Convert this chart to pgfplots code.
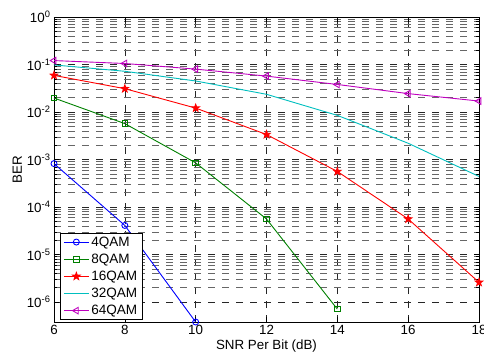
\documentclass[border=0pt]{standalone}
\usepackage{pgfplots}
\pgfplotsset{compat=1.18}
\usepackage{fontspec}
\setmainfont{Liberation Sans}
\definecolor{mgreen}{rgb}{0,0.5,0}
\definecolor{mcyan}{rgb}{0,0.75,0.75}
\definecolor{mmag}{rgb}{0.75,0,0.75}
\pgfdeclareplotmark{fstar}{%
  \pgfpathmoveto{\pgfpointpolar{90}{1.3\pgfplotmarksize}}%
  \pgfpathlineto{\pgfpointpolar{126}{0.52\pgfplotmarksize}}%
  \pgfpathlineto{\pgfpointpolar{162}{1.3\pgfplotmarksize}}%
  \pgfpathlineto{\pgfpointpolar{198}{0.52\pgfplotmarksize}}%
  \pgfpathlineto{\pgfpointpolar{234}{1.3\pgfplotmarksize}}%
  \pgfpathlineto{\pgfpointpolar{270}{0.52\pgfplotmarksize}}%
  \pgfpathlineto{\pgfpointpolar{306}{1.3\pgfplotmarksize}}%
  \pgfpathlineto{\pgfpointpolar{342}{0.52\pgfplotmarksize}}%
  \pgfpathlineto{\pgfpointpolar{18}{1.3\pgfplotmarksize}}%
  \pgfpathlineto{\pgfpointpolar{54}{0.52\pgfplotmarksize}}%
  \pgfpathclose
  \pgfusepathqfillstroke
}
\begin{document}
\begin{tikzpicture}[font=\fontsize{13.4}{16}\selectfont]
\begin{axis}[
  scale only axis, width=425bp, height=305bp,
  ymode=log, xmin=6, xmax=18, ymin=3.8e-7, ymax=1,
  xtick={6,8,10,12,14,16,18}, xticklabels={6,8,10,12,14,16,18},
  ytick={1e-6,1e-5,1e-4,1e-3,1e-2,1e-1,1},
  yticklabels={10\textsuperscript{-6},10\textsuperscript{-5},10\textsuperscript{-4},10\textsuperscript{-3},10\textsuperscript{-2},10\textsuperscript{-1},10\textsuperscript{0}},
  grid=both,
  major grid style={dash pattern=on 7bp off 7bp, black!85, line width=0.5bp},
  minor grid style={dash pattern=on 7bp off 7bp, black!60, line width=0.5bp},
  tick align=inside, major tick length=5bp, minor tick length=3bp,
  tick style={black, line width=0.5bp},
  axis line style={line width=0.8bp},
  xlabel={SNR Per Bit (dB)}, ylabel={BER},
  xlabel style={yshift=2bp}, ylabel style={yshift=-2bp},
  clip mode=individual,
  legend cell align=left,
  legend style={at={(0,0)}, anchor=south west, xshift=6bp, yshift=2bp,
    draw=black, line width=0.8bp, inner xsep=3bp, inner ysep=1.5bp, row sep=2.2bp,
    font=\fontsize{13.6}{16}\selectfont},
  legend image code/.code={\draw[mark repeat=2,mark phase=2,#1] plot coordinates {(0bp,0bp) (12.5bp,0bp) (25bp,0bp)};},
  every axis plot/.append style={line width=0.9bp, mark size=3bp},
]
\addplot[blue, mark=o] coordinates {(6,8.2e-4) (8,4.1e-5) (10,3.8e-7)};
\addlegendentry{4QAM}
\addplot[mgreen, mark=square, mark size=2.8bp] coordinates {(6,1.97e-2) (8,5.7e-3) (10,8.5e-4) (12,5.6e-5) (14,7.1e-7)};
\addlegendentry{8QAM}
\addplot[red, mark=fstar, mark options={fill=red}] coordinates {(6,0.059) (8,0.031) (10,0.0121) (12,3.36e-3) (14,5.6e-4) (16,5.6e-5) (18,2.6e-6)};
\addlegendentry{16QAM}
\addplot[mcyan, no marks] coordinates {(6,0.098) (8,0.072) (10,0.045) (12,0.0236) (14,8.5e-3) (16,2.2e-3) (18,4.4e-4)};
\addlegendentry{32QAM}
\addplot[mmag, mark=triangle, mark options={rotate=90}, mark size=3.8bp] coordinates {(6,0.121) (8,0.105) (10,0.080) (12,0.057) (14,0.038) (16,0.0244) (18,0.017)};
\addlegendentry{64QAM}
\end{axis}
\pgfresetboundingbox
\path ([xshift=-54bp,yshift=-34bp]current axis.south west) rectangle ([xshift=5bp,yshift=17bp]current axis.north east);
\end{tikzpicture}
\end{document}
